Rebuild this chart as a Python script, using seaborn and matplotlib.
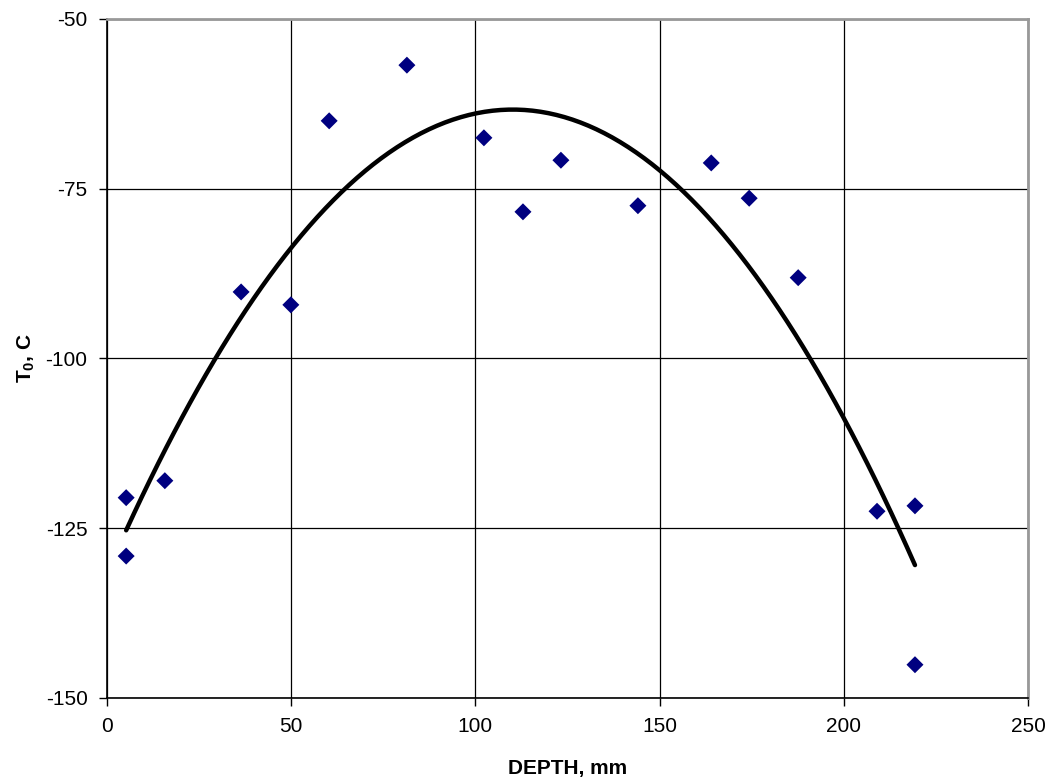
import matplotlib
matplotlib.use("Agg")
import matplotlib.pyplot as plt
import seaborn as sns
import numpy as np
import pandas as pd

depth = [5.2, 5.2, 15.7, 36.4, 49.9, 60.3, 81.4, 102.3, 112.9, 123.2, 144.1, 164.0, 174.3, 187.6, 209.0, 219.3, 219.3]
t0 = [-120.5, -129.1, -118.0, -90.2, -92.1, -65.0, -56.8, -67.5, -78.4, -70.8, -77.5, -71.2, -76.4, -88.1, -122.5, -121.7, -145.1]
x_ticks = [0, 50, 100, 150, 200, 250]
y_ticks = [-150, -125, -100, -75, -50]

df = pd.DataFrame({"depth": depth, "t0": t0})

sns.set_theme(style="white")
plt.rcParams['font.family'] = ['Liberation Sans', 'DejaVu Sans']
plt.rcParams['mathtext.fontset'] = 'custom'
plt.rcParams['mathtext.rm'] = 'Liberation Sans'
plt.rcParams['mathtext.bf'] = 'Liberation Sans:bold'
plt.rcParams['axes.unicode_minus'] = False
plt.rcParams['text.color'] = 'black'
plt.rcParams['axes.labelcolor'] = 'black'
plt.rcParams['xtick.color'] = 'black'
plt.rcParams['ytick.color'] = 'black'

fig = plt.figure(figsize=(10.48, 7.81), dpi=100)
ax = fig.add_axes([0.1021, 0.1063, 0.8789, 0.8694])

sns.regplot(data=df, x="depth", y="t0", order=2, ci=None, ax=ax, marker="D",
            color="#000080",
            scatter_kws=dict(s=75, edgecolor="none", alpha=1, zorder=3),
            line_kws=dict(color="black", lw=3.2, zorder=4))

ax.set_xlim(0, 250)
ax.set_ylim(-150, -50)
ax.set_xticks(x_ticks)
ax.set_yticks(y_ticks)
ax.grid(True, color="black", lw=0.9)
ax.set_axisbelow(True)
for s in ["left", "bottom"]:
    ax.spines[s].set_color("black")
    ax.spines[s].set_linewidth(1.2)
for s in ["top", "right"]:
    ax.spines[s].set_color("#999999")
    ax.spines[s].set_linewidth(2)
ax.tick_params(axis="both", direction="out", length=6, width=1, color="black",
               labelcolor="black", labelsize=15, pad=8, bottom=True, left=True)
ax.set_xlabel("DEPTH, mm", fontsize=15, fontweight="bold", labelpad=16, color="black")
ax.set_ylabel(r"T$_\mathbf{0}$, C", fontsize=15, fontweight="bold", labelpad=6, color="black")

fig.savefig("out.png", dpi=100, facecolor="white")
